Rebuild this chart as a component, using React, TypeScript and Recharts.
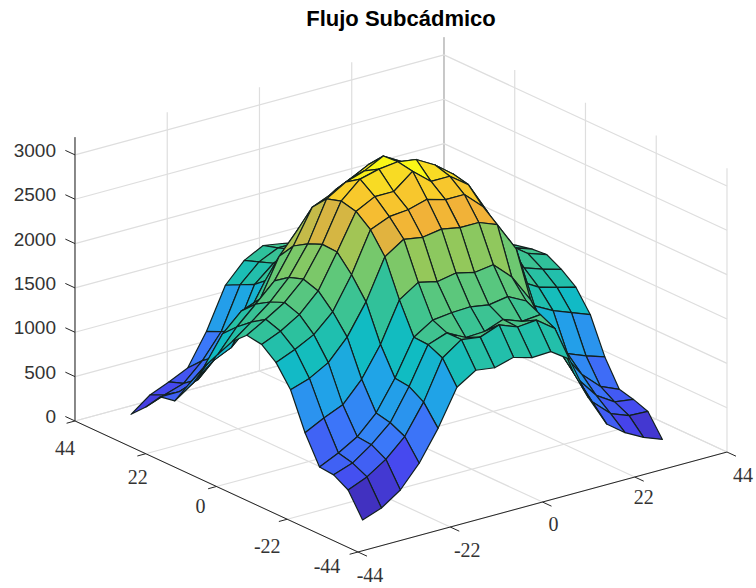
import { ScatterChart, Scatter, XAxis, YAxis } from 'recharts';

const xGrid = [-36, -31.5, -27, -22.5, -18, -13.5, -9, -4.5, 0, 4.4, 8.9, 13.3, 17.8, 22.2, 26.6, 31, 35.5];
const yGrid = [-35, -30.5, -26, -21.6, -17.1, -12.6, -8.1, -3.6, 1, 5.5, 10, 14.4, 18.9, 23.4, 27.9, 32.4, 37];

// one row per y, one column per x
const zRows = [
  [107, 185, 330, 575, 910, 1315, 1450, 1420, 1480, 1420, 1430, 1290, 800, 445, 290, 180, 100],
  [370, 460, 600, 800, 1130, 1570, 1720, 1690, 1770, 1690, 1710, 1560, 1000, 620, 430, 350, 340],
  [465, 540, 690, 880, 1230, 1645, 1720, 1610, 1620, 1700, 1620, 1640, 1180, 800, 560, 430, 400],
  [480, 580, 705, 915, 1250, 1655, 1790, 1815, 1825, 1790, 1825, 1720, 1350, 1000, 720, 530, 440],
  [790, 900, 990, 1220, 1555, 2000, 2140, 2090, 2130, 2080, 2110, 1915, 1600, 1100, 880, 800, 730],
  [1200, 1270, 1390, 1620, 1960, 2410, 2550, 2515, 2550, 2510, 2510, 2430, 2100, 1400, 1290, 1210, 1130],
  [1430, 1520, 1630, 1830, 2190, 2640, 2730, 2750, 2810, 2750, 2750, 2560, 2190, 1600, 1480, 1420, 1365],
  [1560, 1650, 1780, 1990, 2370, 2770, 2880, 2880, 3050, 2880, 2880, 2730, 2370, 1820, 1620, 1550, 1490],
  [1585, 1708, 1840, 2045, 2380, 2810, 3000, 3055, 3080, 3050, 2930, 2770, 2490, 2090, 1800, 1650, 1580],
  [1440, 1600, 1770, 1990, 2310, 2760, 2890, 2960, 3070, 2950, 2870, 2700, 2470, 2070, 1780, 1640, 1565],
  [1220, 1470, 1670, 1875, 2210, 2590, 2680, 2790, 2900, 2800, 2750, 2600, 2300, 2000, 1760, 1620, 1530],
  [1000, 1320, 1520, 1600, 2020, 2270, 2460, 2600, 2700, 2650, 2580, 2380, 2100, 1850, 1680, 1560, 1465],
  [740, 920, 1150, 1300, 1660, 1900, 2050, 2250, 2350, 2300, 2250, 2080, 1850, 1650, 1500, 1380, 1200],
  [470, 620, 800, 900, 1100, 1550, 1700, 1850, 1950, 1950, 1900, 1800, 1600, 1420, 1250, 1100, 900],
  [440, 440, 520, 720, 950, 1420, 1600, 1700, 1750, 1700, 1650, 1550, 1350, 1150, 950, 780, 600],
  [250, 330, 400, 600, 870, 1340, 1540, 1640, 1640, 1580, 1520, 1350, 1100, 850, 620, 450, 350],
  [90, 250, 340, 440, 795, 1257, 1480, 1590, 1555, 1500, 1450, 1300, 1000, 700, 450, 300, 100],
];

const floorTicks = [-44, -22, 0, 22, 44];
const zTicks = [0, 500, 1000, 1500, 2000, 2500, 3000];
const zTop = 3200;

const parula = ['#3e26a8', '#4745ee', '#3a7bfa', '#1fa5e6', '#10bcc2', '#2ec19c', '#62c878', '#98c858', '#f0ae3a', '#f8c92c', '#f9fb15'];

// fixed oblique view of the box
const project = (x: number, y: number, z: number) => ({
  px: 358 + (x + 44) * 4.193 - (y + 44) * 3.216,
  py: 552 - (x + 44) * 1.136 - (y + 44) * 1.489 - z * 0.0887,
});

function colorFor(z: number) {
  const t = Math.max(0, Math.min(1, z / 3080)) * (parula.length - 1);
  const k = Math.min(parula.length - 2, Math.floor(t));
  const a = parseInt(parula[k].slice(1), 16);
  const b = parseInt(parula[k + 1].slice(1), 16);
  const mix = (s: number) => Math.round(((a >> s) & 255) * (1 - (t - k)) + ((b >> s) & 255) * (t - k));
  return `rgb(${mix(16)},${mix(8)},${mix(0)})`;
}

const noDot = () => null;

const segment = (key: string, from: number[], to: number[], stroke: string, width = 1) => (
  <Scatter
    key={key}
    data={[project(from[0], from[1], from[2]), project(to[0], to[1], to[2])]}
    isAnimationActive={false}
    shape={noDot}
    line={(p: any) => (
      <line x1={p.points[0].x} y1={p.points[0].y} x2={p.points[1].x} y2={p.points[1].y} stroke={stroke} strokeWidth={width} />
    )}
  />
);

const label = (key: string, text: string, at: { px: number; py: number }, font: string, size: number, anchor = 'middle', weight = 'normal', color = '#333') => (
  <Scatter
    key={key}
    data={[at]}
    isAnimationActive={false}
    shape={(p: any) => (
      <text x={p.cx} y={p.cy} textAnchor={anchor} dominantBaseline="middle" fontFamily={font} fontSize={size} fontWeight={weight} fill={color}>
        {text}
      </text>
    )}
  />
);

const gridColor = '#dedede';
const serif = '"Liberation Serif", serif';
const sans = '"Liberation Sans", sans-serif';

const grid = [
  ...floorTicks.map((t) => segment(`fx${t}`, [t, -44, 0], [t, 44, 0], gridColor, 1.2)),
  ...floorTicks.map((t) => segment(`fy${t}`, [-44, t, 0], [44, t, 0], gridColor, 1.2)),
  ...floorTicks.map((t) => segment(`wx${t}`, [t, 44, 0], [t, 44, zTop], t === 44 ? '#bdbdbd' : gridColor, 1.2)),
  ...floorTicks.map((t) => segment(`wy${t}`, [44, t, 0], [44, t, zTop], t === 44 ? '#bdbdbd' : gridColor, 1.2)),
  ...zTicks.map((z) => segment(`zl${z}`, [-44, 44, z], [44, 44, z], gridColor, 1.2)),
  ...zTicks.map((z) => segment(`zr${z}`, [44, 44, z], [44, -44, z], gridColor, 1.2)),
];

const axisColor = '#262626';
const axes = [
  segment('ax', [-44, -44, 0], [44, -44, 0], axisColor),
  segment('ay', [-44, -44, 0], [-44, 44, 0], axisColor),
  segment('az', [-44, 44, 0], [-44, 44, zTop], axisColor),
  ...floorTicks.map((t) => segment(`tx${t}`, [t, -44, 0], [t, -46.8, 0], axisColor)),
  ...floorTicks.map((t) => segment(`ty${t}`, [-44, t, 0], [-46, t, 0], axisColor)),
  ...zTicks.map((z) => segment(`tz${z}`, [-44, 44, z], [-44, 47, z], axisColor)),
];

// far corner first, so nearer faces paint over farther ones; each face takes its first corner's colour
const quads: any[] = [];
for (let j = yGrid.length - 2; j >= 0; j--) {
  for (let i = xGrid.length - 2; i >= 0; i--) {
    const corners = [[i, j], [i + 1, j], [i + 1, j + 1], [i, j + 1]];
    quads.push(
      <Scatter
        key={`q${i}-${j}`}
        data={corners.map(([a, b]) => project(xGrid[a], yGrid[b], zRows[b][a]))}
        isAnimationActive={false}
        shape={noDot}
        line={(p: any) => (
          <polygon
            points={p.points.map((c: any) => `${c.x},${c.y}`).join(' ')}
            fill={colorFor(zRows[j][i])}
            stroke="#12201e"
            strokeWidth={1.2}
            strokeLinejoin="round"
          />
        )}
      />
    );
  }
}

const yLabelNudge = [[-31, 16], [-20, 29], [-16, 22], [-8, 26], [-10, 29]];
const xLabelNudge = [[12, 25], [17, 25], [11, 24], [9, 22], [16, 25]];

const labels = [
  ...floorTicks.map((t, k) => {
    const a = project(-44, t, 0);
    return label(`ly${t}`, String(t), { px: a.px + yLabelNudge[k][0], py: a.py + yLabelNudge[k][1] }, serif, 20);
  }),
  ...floorTicks.map((t, k) => {
    const a = project(t, -44, 0);
    return label(`lx${t}`, String(t), { px: a.px + xLabelNudge[k][0], py: a.py + xLabelNudge[k][1] }, serif, 20);
  }),
  ...zTicks.map((z) => {
    const a = project(-44, 44, z);
    return label(`lz${z}`, String(z), { px: a.px - 19, py: a.py - 3 }, sans, 19, 'end');
  }),
];

export default function App() {
  return (
    <div style={{ position: 'absolute', left: 0, top: 0, width: 756, height: 588, background: '#fff' }}>
      <ScatterChart width={756} height={588} margin={{ top: 0, right: 0, bottom: 0, left: 0 }}>
        <XAxis type="number" dataKey="px" domain={[0, 756]} hide />
        <YAxis type="number" dataKey="py" domain={[0, 588]} reversed hide />
        {grid}
        {quads}
        {axes}
        {labels}
        {label('title', 'Flujo Subcádmico', { px: 401, py: 20 }, sans, 22, 'middle', 'bold', '#000')}
      </ScatterChart>
    </div>
  );
}
